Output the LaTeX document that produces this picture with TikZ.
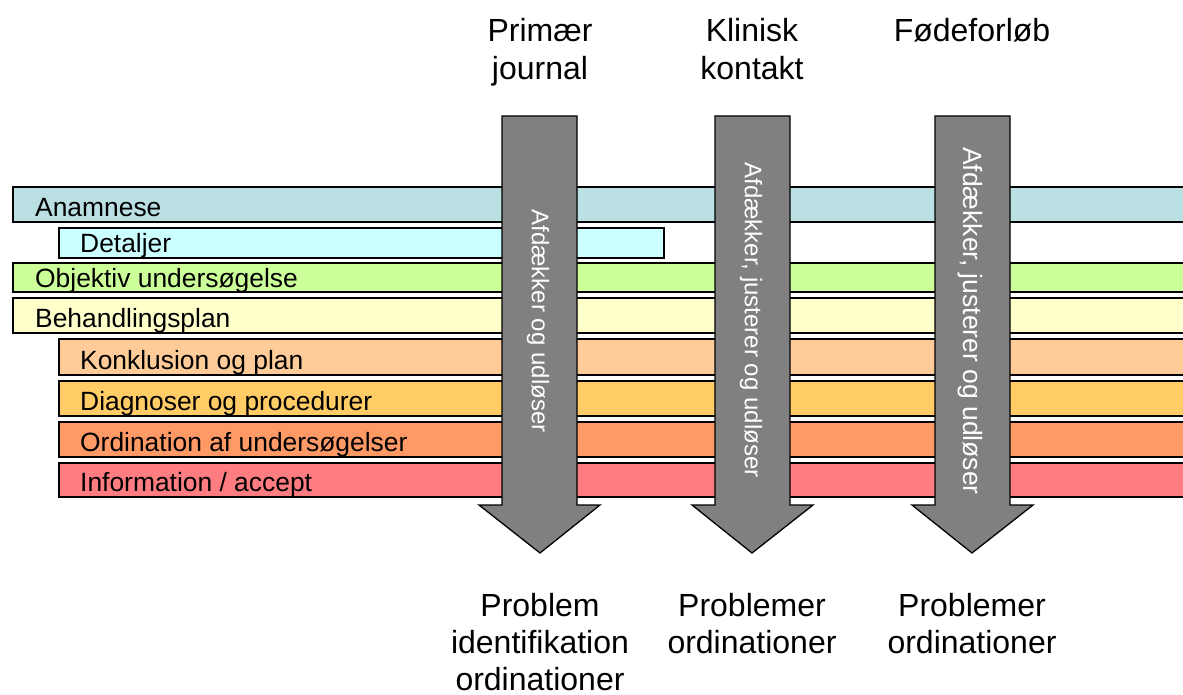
\documentclass[tikz,border=0pt]{standalone}
\usepackage{fontspec}
\setmainfont{Liberation Sans}
\definecolor{cAnam}{HTML}{BBE0E3}
\definecolor{cDet}{HTML}{CCFFFF}
\definecolor{cObj}{HTML}{CCFF99}
\definecolor{cBeh}{HTML}{FFFFCC}
\definecolor{cKon}{HTML}{FFCC99}
\definecolor{cDia}{HTML}{FFCC66}
\definecolor{cOrd}{HTML}{FF9966}
\definecolor{cInf}{HTML}{FF7C80}
\definecolor{cArr}{HTML}{808080}
\tikzset{
  barbox/.style={draw=black, line width=1.5pt},
  barlabel/.style={anchor=base west, inner sep=0pt, font=\fontsize{26.4}{30}\selectfont},
  bigarrow/.style={draw=black, fill=cArr, line width=1.3pt, line join=miter},
  arrowtext/.style={rotate=-90, inner sep=0pt, text=white},
  toplabel/.style={anchor=north, inner sep=0pt, align=center, font=\fontsize{32}{38}\selectfont},
  botlabel/.style={anchor=north, inner sep=0pt, align=center, font=\fontsize{32}{37}\selectfont},
}
\begin{document}
\begin{tikzpicture}[x=1pt,y=-1pt]
\useasboundingbox (0,0) rectangle (1183,695);
\begin{scope}
\clip (0,0) rectangle (1183,695);
% bars
\path[barbox, fill=cAnam] (13,187) rectangle (1200,222);
\path[barbox, fill=cDet]  (59,228) rectangle (664,258);
\path[barbox, fill=cObj]  (13,263) rectangle (1200,292);
\path[barbox, fill=cBeh]  (13,298) rectangle (1200,333);
\path[barbox, fill=cKon]  (59,339) rectangle (1200,375);
\path[barbox, fill=cDia]  (59,381) rectangle (1200,416);
\path[barbox, fill=cOrd]  (59,422) rectangle (1200,457);
\path[barbox, fill=cInf]  (59,463) rectangle (1200,497);
\end{scope}
\node[barlabel] (lAnam) at (35,216) {Anamnese};
\node[barlabel] (lDet)  at (80,252) {Detaljer};
\node[barlabel] (lObj)  at (35,287) {Objektiv undersøgelse};
\node[barlabel] (lBeh)  at (35,327) {Behandlingsplan};
\node[barlabel] (lKon)  at (80,369) {Konklusion og plan};
\node[barlabel] (lDia)  at (80,410) {Diagnoser og procedurer};
\node[barlabel] (lOrd)  at (80,451) {Ordination af undersøgelser};
\node[barlabel] (lInf)  at (80,491) {Information / accept};
% arrows
\path[bigarrow] (502,116) -- (577,116) -- (577,505) -- (600,505) -- (540,553) -- (479,505) -- (502,505) -- cycle;
\path[bigarrow] (715,116) -- (790,116) -- (790,505) -- (813,505) -- (752,553) -- (692,505) -- (715,505) -- cycle;
\path[bigarrow] (935,116) -- (1010,116) -- (1010,505) -- (1033,505) -- (972,553) -- (912,505) -- (935,505) -- cycle;
\node[arrowtext, font=\fontsize{24}{28}\selectfont] (t1) at (538,321) {Afdækker og udløser};
\node[arrowtext, font=\fontsize{24}{28}\selectfont] (t2) at (751,320) {Afdækker, justerer og udløser};
\node[arrowtext, font=\fontsize{26.5}{30}\selectfont] (t3) at (970,321) {Afdækker, justerer og udløser};
% top labels
\node[toplabel] (h1) at (540,18) {Primær\\journal};
\node[toplabel] (h2) at (752,18) {Klinisk\\kontakt};
\node[toplabel] (h3) at (972,18) {Fødeforløb};
% bottom labels
\node[botlabel] (b1) at (540,593) {Problem\\identifikation\\ordinationer};
\node[botlabel] (b2) at (752,593) {Problemer\\ordinationer};
\node[botlabel] (b3) at (972,593) {Problemer\\ordinationer};
\end{tikzpicture}
\end{document}
